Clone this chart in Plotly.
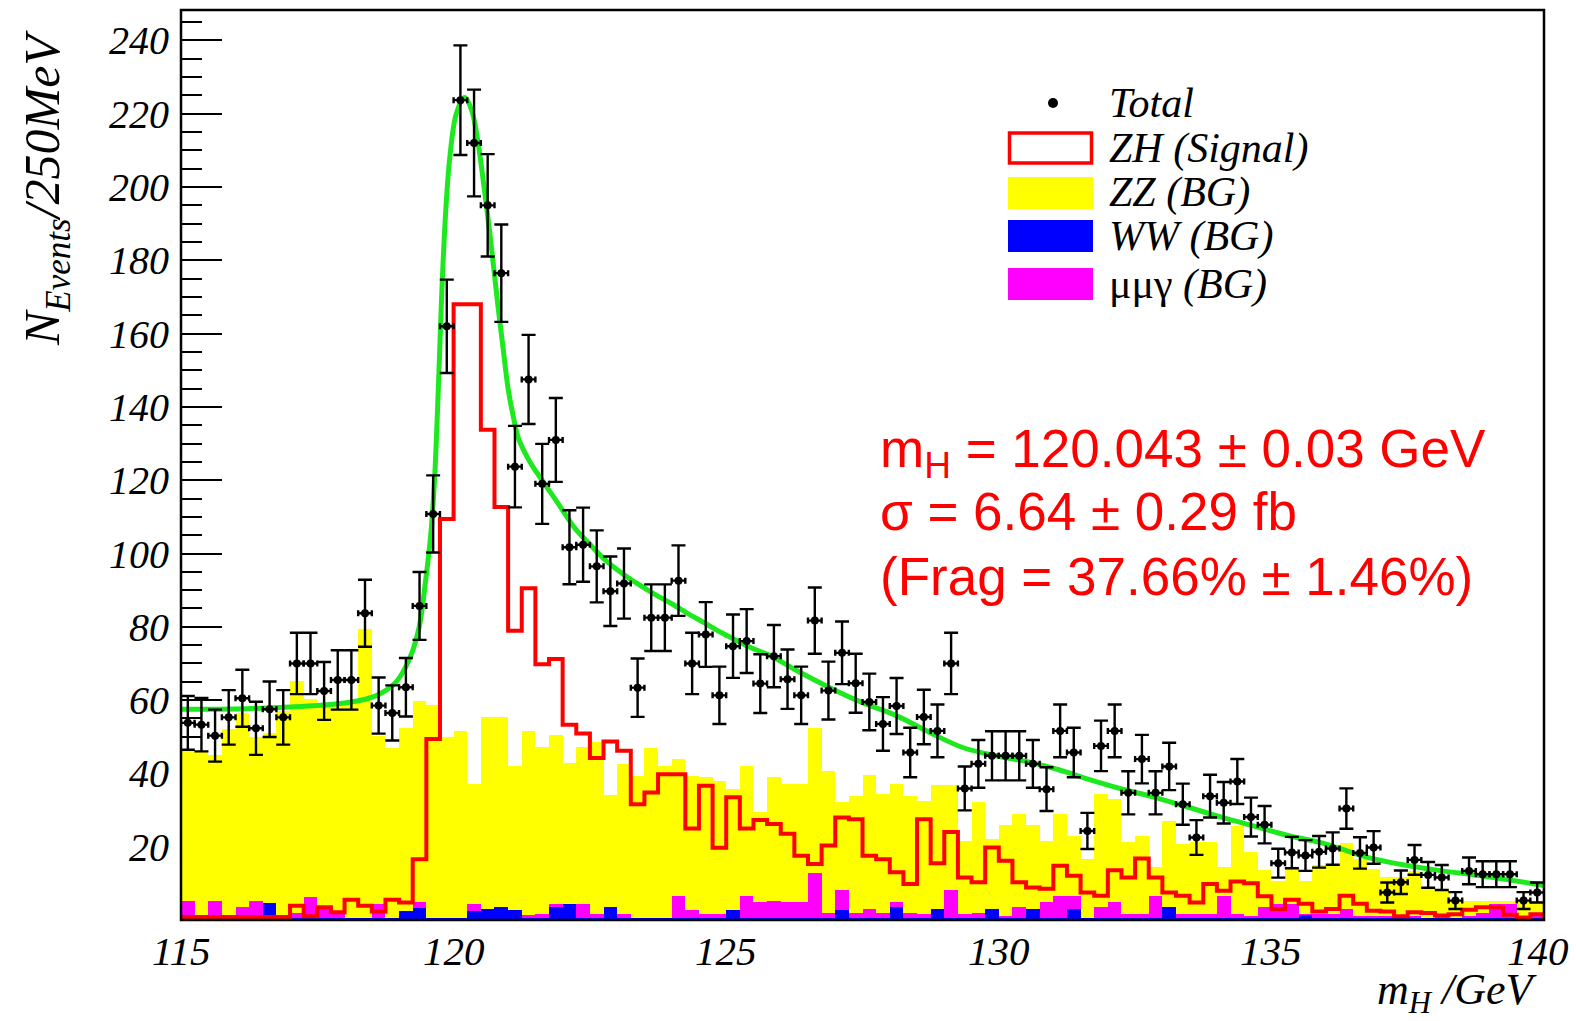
import numpy as np
import plotly.graph_objects as go

# ---------------------------------------------------------------- data
# 100 bins of 250 MeV between 115 and 140 GeV
X_MIN, X_MAX, BIN_W = 115.0, 140.0, 0.25

zz_bg = [
    46, 46, 45, 52, 56.6, 50, 51, 57, 65.3, 60.3,
    58.5, 59.4, 59.4, 79.4, 50.3, 47, 52.3, 59.8, 58.7, 49.8,
    51.6, 37.1, 55.5, 55.5, 42.1, 51.6, 47.1, 50.5, 42.8, 47.1,
    48.6, 34.1, 42.7, 39.4, 46.9, 42.1, 43.9, 39.4, 38.9, 38,
    35.7, 42.1, 29.4, 38.9, 37.1, 37.1, 52.3, 40.7, 32.1, 33.9,
    39.5, 34.4, 37.1, 33.9, 32.5, 36.8, 36.8, 21.6, 32.1, 22,
    25.9, 28.9, 25.9, 21.6, 28.9, 23, 16.6, 34.5, 33, 21.2,
    22.8, 14.4, 27.1, 20.7, 21.2, 21.4, 14.4, 25.7, 18.5, 13.7,
    10.7, 14, 10.7, 15, 15, 21, 16.6, 13.9, 11.6, 11.6,
    13.5, 8.5, 8.5, 4.8, 5.3, 5.3, 5.3, 5.3, 4.8, 5.3,
]

zh_signal = [
    0.8, 0.8, 0.8, 0.8, 0.8, 0.8, 0.8, 0.8, 3.9, 1,
    3.5, 2.1, 5.5, 3.9, 2.3, 5.5, 4.8, 16.6, 49.4, 109.4,
    168, 168, 133.8, 112.7, 78.9, 90.5, 69.8, 71.2, 53.3, 50.9,
    44.2, 48.7, 46.2, 31.6, 34.8, 39.8, 39.8, 25, 36.6, 19.7,
    33.5, 25, 27.3, 26.2, 23.5, 17.5, 15.3, 20.3, 28, 27.5,
    17.5, 16.6, 13, 9.8, 27.5, 15.5, 24, 11.6, 10.3, 19.8,
    16.2, 10.3, 8.9, 8.5, 14.8, 12.1, 7.5, 6.6, 13.6, 11.6,
    16.8, 11.6, 7.5, 6.6, 4.8, 9.8, 8, 10.5, 10, 6.5,
    3, 5.5, 4.4, 2.3, 3, 6.6, 4.4, 2.5, 2.3, 1,
    2.1, 1.9, 1.2, 1.6, 2.8, 3.5, 3.5, 1.4, 0.7, 1.6,
]

mumugamma_bg = [
    5.3, 0.5, 5.3, 0.5, 3.5, 5.3, 3, 0.3, 2, 6.4,
    3, 2.5, 0.5, 0.5, 4.5, 0.5, 2, 4.8, 0.5, 0.5,
    0.5, 4.5, 3, 3, 2, 1.4, 1.6, 4.5, 3, 4.5,
    1.6, 2.5, 1.6, 0.5, 0.5, 0.5, 6.5, 2.8, 1.6, 1.6,
    2, 6.5, 4.8, 5.3, 4.8, 4.8, 12.8, 2, 8.3, 2,
    3, 2, 4.8, 2, 1.6, 2, 8.3, 1.6, 2, 2,
    1.2, 3.5, 2, 4.8, 6.5, 6.5, 0.5, 3.5, 4.8, 1.6,
    1.6, 6.5, 2, 1.6, 1.6, 1.6, 6.6, 1.6, 1.2, 3.5,
    4.4, 4.4, 1.6, 1.6, 1.6, 3, 1, 1, 1, 0.5,
    1, 0.5, 1, 0.5, 1, 2, 4.4, 4.4, 1, 2,
]

ww_bg = [
    0.6, 0.6, 0.6, 0.6, 0.6, 0.6, 4.6, 0.6, 0.6, 0.6,
    0.6, 0.6, 0.6, 0.6, 0.6, 0.6, 2.5, 3.3, 0.6, 0.6,
    0.6, 2.5, 3, 3.5, 2.8, 0.6, 0.6, 3.5, 4.5, 0.6,
    0.6, 3.5, 0.6, 0.6, 0.6, 0.6, 0.6, 0.6, 0.6, 0.6,
    2.8, 0.6, 0.6, 0.6, 0.6, 0.6, 0.6, 0.6, 2.8, 0.6,
    0.6, 0.6, 3.5, 0.6, 0.6, 3, 0.6, 0.6, 0.6, 3,
    0.6, 0.6, 3, 0.6, 0.6, 3, 0.6, 0.6, 0.6, 0.6,
    0.6, 0.6, 3.5, 0.6, 0.6, 0.6, 0.6, 0.6, 0.6, 0.6,
    0.6, 0.6, 1.5, 0.6, 0.6, 0.6, 0.6, 0.6, 0.6, 0.6,
    0.6, 0.6, 0.6, 0.6, 0.6, 0.6, 0.6, 0.6, 0.6, 0.6,
]

total = [
    53.8, 53.3, 50.3, 55.3, 60.5, 52.3, 57.5, 55.3, 70, 70,
    62.5, 65.5, 65.5, 83.7, 58.5, 56.5, 63.5, 85.7, 110.8, 162,
    223.7, 212, 195, 176.5, 123.7, 147.5, 119, 131, 101.7, 102.4,
    96.5, 89.7, 91.8, 63.4, 82.5, 82.5, 92.6, 70, 77.9, 61.3,
    74.7, 76.1, 64.5, 72, 65.7, 61.3, 81.7, 62.6, 72.9, 64.6,
    59.5, 53.5, 58.4, 45.7, 55.4, 51.6, 70, 35.9, 42.6, 44.8,
    44.8, 44.8, 42.6, 35.7, 51.6, 45.7, 24.3, 47.5, 51.6, 34.7,
    43.9, 34.7, 41.9, 31.6, 22.5, 33.8, 32, 37.8, 28.1, 26,
    15.5, 18.4, 17.6, 18.6, 19.5, 30.4, 18.3, 19.8, 7.5, 10.3,
    16.4, 12.3, 11.6, 5.3, 13.4, 12.5, 12.5, 12.5, 5.3, 7.5,
]

# fitted line shape (mass in GeV, events per bin)
fit_mass = [
    115.0, 115.5, 116.0, 116.5, 117.0, 117.5, 118.0, 118.4, 118.63, 118.88,
    119.0, 119.12, 119.25, 119.37, 119.49, 119.58, 119.65, 119.72, 119.78, 119.85,
    119.93, 120.05, 120.2, 120.33, 120.45, 120.55, 120.66, 120.81, 120.9, 121.0,
    121.1, 121.2, 121.4, 121.6, 121.9, 122.22, 122.5, 122.8, 123.1, 123.4,
    123.7, 124.0, 124.3, 124.6, 124.9, 125.2, 125.5, 125.83, 126.3, 126.9,
    127.5, 128.13, 128.74, 129.35, 129.96, 130.58, 131.1, 131.65, 132.27, 132.88,
    133.49, 134.1, 134.71, 135.32, 135.94, 136.5, 136.9, 137.52, 138.13, 138.74,
    139.35, 140.0,
]
fit_events = [
    57.5, 57.5, 57.6, 57.8, 58.1, 58.5, 59.2, 60.3, 61.5, 64,
    66, 69, 73.5, 80, 93, 105, 120, 145, 170, 192,
    208, 220, 224.4, 221, 212, 201, 188, 168, 157, 145,
    137, 131, 125, 120.5, 114, 107, 102.5, 98, 94.5, 91.5,
    88.8, 86.3, 83.6, 81.1, 78.5, 76.2, 74, 72, 68, 63.4,
    59.3, 55.7, 51.1, 47, 44.8, 43, 41, 38.4, 35.7, 33.4,
    30.7, 28, 25.5, 23, 21, 18.3, 16.6, 14.8, 13.4, 12.3,
    11, 9.4,
]

x_ticks = [115, 120, 125, 130, 135, 140]
y_ticks = [20, 40, 60, 80, 100, 120, 140, 160, 180, 200, 220, 240]

fit_text = [
    "m<sub>H</sub> = 120.043 ± 0.03 GeV",
    "σ = 6.64 ± 0.29 fb",
    "(Frag = 37.66% ± 1.46%)",
]

# ---------------------------------------------------------------- geometry
FIG_W, FIG_H = 1576, 1021
PL, PR, PT, PB = 181, 1544, 10, 920          # plot-area edges in px
Y_MAX = 248.3

SERIF = "Liberation Serif"
SANS = "Liberation Sans"


def px_x(px):
    return (px - PL) / (PR - PL)


def px_y(py):
    return (PB - py) / (PB - PT)


n_bins = len(total)
edges = X_MIN + BIN_W * np.arange(n_bins + 1)
centers = edges[:-1] + BIN_W / 2

fig = go.Figure()

# background histograms drawn as filled bins, each starting from zero
for vals, col in [(zz_bg, "#ffff00"), (mumugamma_bg, "#ff00ff"), (ww_bg, "#0000ff")]:
    fig.add_trace(go.Bar(
        x=centers, y=vals, width=BIN_W,
        marker=dict(color=col, line=dict(width=0)),
        showlegend=False, hoverinfo="skip",
    ))

# signal as an outlined step histogram
step_x = np.concatenate([[edges[0]], edges[:-1], [edges[-1], edges[-1]]])
step_y = np.concatenate([[0], zh_signal, [zh_signal[-1], 0]])
fig.add_trace(go.Scatter(
    x=step_x, y=step_y, mode="lines", line_shape="hv",
    line=dict(color="#ff0000", width=4),
    showlegend=False, hoverinfo="skip",
))

# fit curve
fig.add_trace(go.Scatter(
    x=fit_mass, y=fit_events, mode="lines", line_shape="spline",
    line=dict(color="#1ee81e", width=5),
    showlegend=False, hoverinfo="skip",
))

# total with Poisson errors
tot = np.array(total, dtype=float)
fig.add_trace(go.Scatter(
    x=centers, y=tot, mode="markers",
    marker=dict(color="black", size=8, symbol="circle"),
    error_y=dict(type="data", array=np.sqrt(tot), color="black", thickness=2.4, width=7),
    error_x=dict(type="constant", value=BIN_W / 2, color="black", thickness=2.4, width=3),
    showlegend=False, hoverinfo="skip",
))

# ---------------------------------------------------------------- legend
shapes = []
annotations = []

leg_box_x0, leg_box_x1 = 1008, 1093
leg_text_x = 1107
leg_rows = [
    ("dot", "black", "<i>Total</i>", 103),
    ("outline", "#ff0000", "<i>ZH (Signal)</i>", 148),
    ("fill", "#ffff00", "<i>ZZ (BG)</i>", 193),
    ("fill", "#0000ff", "<i>WW (BG)</i>", 236),
    ("fill", "#ff00ff", "μμγ <i>(BG)</i>", 284),
]
for kind, col, label, yc in leg_rows:
    if kind == "dot":
        shapes.append(dict(
            type="circle", xref="paper", yref="paper",
            x0=px_x(1048), x1=px_x(1058), y0=px_y(yc + 5), y1=px_y(yc - 5),
            fillcolor="black", line=dict(width=0), layer="above",
        ))
    elif kind == "outline":
        shapes.append(dict(
            type="rect", xref="paper", yref="paper",
            x0=px_x(leg_box_x0 + 1.5), x1=px_x(leg_box_x1 - 1.5),
            y0=px_y(yc + 15), y1=px_y(yc - 15),
            fillcolor="white", line=dict(color=col, width=3.5), layer="above",
        ))
    else:
        shapes.append(dict(
            type="rect", xref="paper", yref="paper",
            x0=px_x(leg_box_x0), x1=px_x(leg_box_x1),
            y0=px_y(yc + 16), y1=px_y(yc - 16),
            fillcolor=col, line=dict(width=0), layer="above",
        ))
    annotations.append(dict(
        text=label, xref="paper", yref="paper",
        x=px_x(leg_text_x), y=px_y(yc), xanchor="left", yanchor="middle",
        showarrow=False, font=dict(family=SERIF, size=42, color="black"),
    ))

# fit result text
for txt, yc in zip(fit_text, [452, 511, 576]):
    annotations.append(dict(
        text=txt, xref="paper", yref="paper",
        x=px_x(878), y=px_y(yc), xanchor="left", yanchor="middle",
        showarrow=False, font=dict(family=SANS, size=53, color="#ff0000"),
    ))

# x-axis numbers, placed on the axis scale; the last one is nudged
# inwards so that it stays inside the canvas
for v in x_ticks:
    annotations.append(dict(
        text=str(v), xref="x", yref="paper", x=v, y=px_y(951),
        xanchor="center", yanchor="middle", showarrow=False,
        xshift=-6 if v == x_ticks[-1] else 0,
        font=dict(family=SERIF, size=41, color="black", style="italic"),
    ))

# axis titles
annotations.append(dict(
    text="<i>N</i><sub><i>Events</i></sub><i>/250MeV</i>",
    xref="paper", yref="paper", x=px_x(46), y=px_y(188),
    xanchor="center", yanchor="middle", textangle=-90,
    showarrow=False, font=dict(family=SERIF, size=50, color="black"),
))
annotations.append(dict(
    text="<i>m</i><sub><i>H</i></sub><i> /GeV</i>",
    xref="paper", yref="paper", x=px_x(1540), y=px_y(993),
    xanchor="right", yanchor="middle",
    showarrow=False, font=dict(family=SERIF, size=44, color="black"),
))

# frame
shapes.append(dict(
    type="rect", xref="paper", yref="paper", x0=0, x1=1, y0=0, y1=1,
    line=dict(color="black", width=2.5), fillcolor="rgba(0,0,0,0)", layer="above",
))

fig.update_layout(
    width=FIG_W, height=FIG_H,
    margin=dict(l=PL, r=FIG_W - PR, t=PT, b=FIG_H - PB, pad=0),
    paper_bgcolor="white", plot_bgcolor="white",
    barmode="overlay", bargap=0, showlegend=False,
    shapes=shapes, annotations=annotations,
    xaxis=dict(
        range=[X_MIN, X_MAX], showgrid=False, zeroline=False, showline=False,
        tickmode="array", tickvals=x_ticks, showticklabels=False,
        ticks="inside", ticklen=27, tickwidth=2, tickcolor="black",
        minor=dict(tickmode="linear", tick0=115, dtick=1, ticks="inside",
                   ticklen=14, tickwidth=2, tickcolor="black"),
        layer="below traces",
    ),
    yaxis=dict(
        range=[0, Y_MAX], showgrid=False, zeroline=False, showline=False,
        tickmode="array", tickvals=y_ticks, ticktext=[str(v) for v in y_ticks],
        ticks="inside", ticklen=41, tickwidth=2, tickcolor="black",
        minor=dict(tickmode="linear", tick0=0, dtick=5, ticks="inside",
                   ticklen=21, tickwidth=2, tickcolor="black"),
        tickfont=dict(family=SERIF, size=40, color="black", style="italic"),
        ticklabelstandoff=11, layer="below traces",
    ),
)

fig.write_html("out.html")
